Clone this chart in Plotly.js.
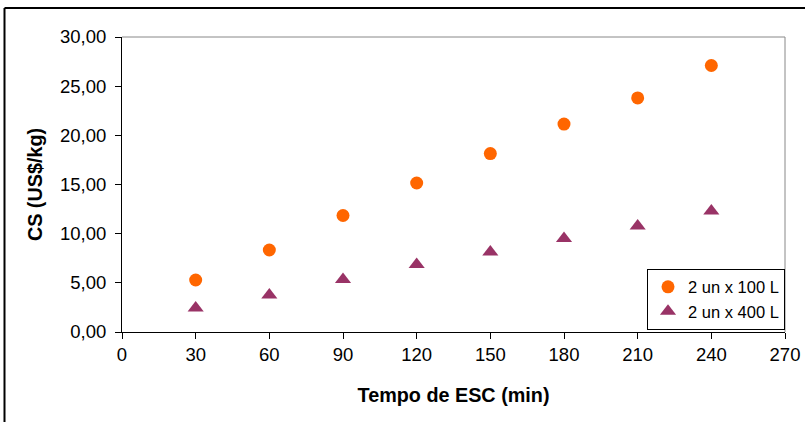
<!DOCTYPE html>
<html>
<head>
<meta charset="utf-8">
<script src="https://cdn.plot.ly/plotly-3.0.1.min.js"></script>
<style>html,body{margin:0;padding:0;background:#fff;}#chart{width:805px;height:422px;}</style>
</head>
<body>
<div id="chart"></div>
<script>
const tempo = [30, 60, 90, 120, 150, 180, 210, 240];
const cs100 = [5.29, 8.34, 11.85, 15.15, 18.15, 21.15, 23.8, 27.1];
const cs400 = [2.44, 3.76, 5.34, 6.86, 8.14, 9.5, 10.78, 12.3];
const seriesNames = ['2 un x 100 L', '2 un x 400 L'];
const xTicks = [0, 30, 60, 90, 120, 150, 180, 210, 240, 270];
const yTicks = [0, 5, 10, 15, 20, 25, 30];

const L = 122, R = 785, T = 37, B = 332, W = 805, H = 422;
const px = x => (x - L) / (R - L);
const py = y => (B - y) / (B - T);

const traces = [
  {x: tempo, y: cs100, name: seriesNames[0], type: 'scatter', mode: 'markers',
   marker: {symbol: 'circle', size: 13, color: '#FF6600'}, cliponaxis: false},
  {x: tempo, y: cs400, name: seriesNames[1], type: 'scatter', mode: 'markers',
   marker: {symbol: 'triangle-up', size: 14, color: '#993366'}, cliponaxis: false}
];

const fam = '"Liberation Sans", Arial, sans-serif';
const tickFont = {family: fam, size: 18.5, color: '#000'};
const titleFont = {family: fam, size: 19.8, color: '#000', weight: 'bold'};

const layout = {
  width: W, height: H,
  margin: {l: L, r: W - R, t: T, b: H - B, pad: 0},
  paper_bgcolor: '#fff', plot_bgcolor: '#fff',
  separators: ',.',
  font: tickFont,
  showlegend: true,
  legend: {x: 1, y: 0.008, xanchor: 'right', yanchor: 'bottom',
    bgcolor: '#fff', bordercolor: '#000', borderwidth: 1,
    font: {family: fam, size: 16.5, color: '#000'},
    tracegroupgap: 0, itemwidth: 30},
  xaxis: {range: [0, 270], tickvals: xTicks, ticktext: xTicks.map(String),
    showgrid: false, zeroline: false, showline: true, linecolor: '#000', linewidth: 1,
    ticks: 'outside', ticklen: 6, tickcolor: '#000', tickfont: tickFont,
    title: {text: 'Tempo de ESC (min)', font: titleFont, standoff: 23},
    fixedrange: true},
  yaxis: {range: [0, 30], tickvals: yTicks, tickformat: '.2f',
    showgrid: false, zeroline: false, showline: true, linecolor: '#000', linewidth: 1,
    ticks: 'outside', ticklen: 6, tickcolor: '#000', tickfont: tickFont,
    ticklabelstandoff: 5,
    title: {text: 'CS (US$/kg)', font: titleFont, standoff: 12},
    fixedrange: true},
  shapes: [
    {type: 'line', xref: 'paper', yref: 'paper', x0: 0, x1: 1, y0: 1, y1: 1, line: {color: '#888', width: 1}},
    {type: 'line', xref: 'paper', yref: 'paper', x0: 1, x1: 1, y0: 0, y1: 1, line: {color: '#888', width: 1}},
    {type: 'line', xref: 'paper', yref: 'paper', x0: px(4.5), x1: px(805), y0: py(8), y1: py(8), line: {color: '#000', width: 2}},
    {type: 'line', xref: 'paper', yref: 'paper', x0: px(4.5), x1: px(4.5), y0: py(8), y1: py(422), line: {color: '#000', width: 2}}
  ]
};

Plotly.newPlot('chart', traces, layout, {displayModeBar: false, staticPlot: true});
</script>
</body>
</html>
